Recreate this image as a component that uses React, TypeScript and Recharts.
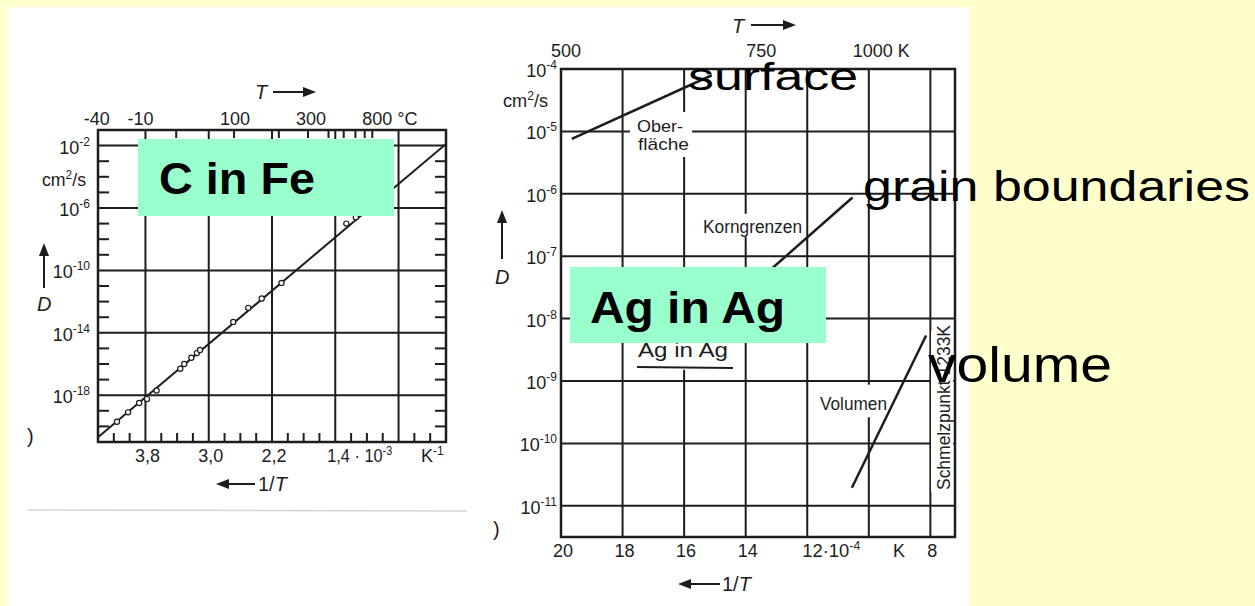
import React from 'react';
import { ScatterChart, Scatter, XAxis, YAxis, CartesianGrid, ReferenceArea } from 'recharts';

const INK = '#1d1d1d';
const SCAN_FONT = "'Liberation Sans Narrow', 'Liberation Sans', Arial, sans-serif";
const SLIDE_FONT = "'Liberation Sans', Arial, sans-serif";

// C in Fe: log10 D (cm²/s) over 1/T (10^-3 K^-1)
const feInvT = [4.16, 4.02, 3.88, 3.78, 3.66, 3.36, 3.31, 3.22, 3.15, 3.11, 2.69, 2.5, 2.33, 2.08, 1.26, 1.14];
const feLogD = [-19.7, -19.1, -18.5, -18.25, -17.7, -16.3, -16.0, -15.6, -15.3, -15.1, -13.3, -12.4, -11.8, -10.8, -7.0, -6.6];
const feFitInvT = [4.4, 0];
const feFitLogD = [-20.7, -1.9];
const feXTicks = [3.8, 3.0, 2.2, 1.4, 0.6];
const feXLabels = ['3,8', '3,0', '2,2', '1,4 · 10', ''];
const feXSup = ['', '', '', '-3', ''];
const feYTicks = [-18, -14, -10, -6, -2];
const feMinorX = [4.2, 4.0, 3.6, 3.4, 3.2, 2.8, 2.6, 2.4, 2.0, 1.8, 1.6, 1.2, 1.0, 0.8, 0.4, 0.2];
const feMinorY = [-20, -19, -17, -16, -15, -13, -12, -11, -9, -8, -7, -5, -4, -3];
const feTopCelsius = [-40, -10, 100, 300, 800];
const feTopTickCelsius = [20, 100, 200, 300, 400, 500, 600, 700, 800];

// Ag in Ag: log10 D (cm²/s) over 1/T (10^-4 K^-1)
const agSurfaceInvT = [19.65, 15.1];
const agSurfaceLogD = [-5.12, -4.1];
const agGrainInvT = [10.53, 13.5];
const agGrainLogD = [-6.06, -7.35];
const agVolumeInvT = [10.55, 8.14];
const agVolumeLogD = [-10.71, -8.27];
const agXTicks = [20, 18, 16, 14, 12, 10, 8];
const agXLabels = ['20', '18', '16', '14', '12·10', '', '8'];
const agXSup = ['', '', '', '', '-4', '', ''];
const agYTicks = [-11, -10, -9, -8, -7, -6, -5, -4];
const agTopKelvin = [500, 750, 1000];

const toFeInvT = (c: number) => 1000 / (c + 273.15);
const toAgInvT = (k: number) => 10000 / k;
const pts = (xs: number[], ys: number[]) => xs.map((x, i) => ({ x, y: ys[i] }));

const mark = (dx: number, dy: number) => (p: any) => (
  <line x1={p.cx} y1={p.cy} x2={p.cx + dx} y2={p.cy + dy} stroke={INK} strokeWidth={2} />
);
const ring = (p: any) => <circle cx={p.cx} cy={p.cy} r={2.6} fill="#fff" stroke={INK} strokeWidth={1.2} />;
const none = () => <g />;

const powerTick = (dx: number, dy: number) => (p: any) => (
  <text x={p.x + dx} y={p.y + dy} textAnchor="end" fontFamily={SCAN_FONT} fontSize={18} fill={INK}>
    10<tspan dy={-8} fontSize={12}>{String(p.payload.value)}</tspan>
  </text>
);

const bottomTick = (ticks: number[], labels: string[], sups: string[], supShift: number, supLen: number) => (p: any) => {
  const i = ticks.indexOf(p.payload.value);
  if (i < 0 || !labels[i]) return <g />;
  const y = p.y + 20;
  if (sups[i]) {
    return (
      <text x={p.x - supShift} y={y} textAnchor="start" fontFamily={SCAN_FONT} fontSize={18} fill={INK}
        textLength={supLen} lengthAdjust="spacingAndGlyphs">
        {labels[i]}<tspan dy={-7} fontSize={12}>{sups[i]}</tspan>
      </text>
    );
  }
  return (
    <text x={p.x + 2} y={y} textAnchor="middle" fontFamily={SCAN_FONT} fontSize={18} fill={INK}>{labels[i]}</text>
  );
};

const feTopTick = (p: any) => {
  const i = feTopCelsius.map(toFeInvT).indexOf(p.payload.value);
  const c = feTopCelsius[i];
  const last = i === feTopCelsius.length - 1;
  const nudge = [-10, -5, 1, 3, 0][i] ?? 0;
  return (
    <text x={p.x + (last ? -10 : nudge)} y={p.y - 5} textAnchor={last ? 'start' : 'middle'}
      fontFamily={SCAN_FONT} fontSize={18} fill={INK}>
      {last ? `${c} °C` : `${c}`}
    </text>
  );
};

const agTopTick = (p: any) => {
  const i = agTopKelvin.map(toAgInvT).indexOf(p.payload.value);
  const k = agTopKelvin[i];
  const last = i === agTopKelvin.length - 1;
  const nudge = [5, -5, 0][i] ?? 0;
  return (
    <text x={p.x + (last ? -16 : nudge)} y={p.y - 12} textAnchor={last ? 'start' : 'middle'}
      fontFamily={SCAN_FONT} fontSize={18} fill={INK}>
      {last ? `${k} K` : `${k}`}
    </text>
  );
};

const FeChart = () => (
  <ScatterChart width={480} height={520} margin={{ top: 100, right: 34, bottom: 48, left: 48 }}>
    <CartesianGrid stroke={INK} strokeWidth={2} />
    <XAxis type="number" dataKey="x" domain={[0, 4.4]} reversed allowDataOverflow ticks={feXTicks} interval={0}
      height={30} tickSize={0} tickMargin={0} tickLine={false} axisLine={false}
      tick={bottomTick(feXTicks, feXLabels, feXSup, 8, 65)} />
    <XAxis xAxisId="top" orientation="top" type="number" dataKey="x" domain={[0, 4.4]} reversed allowDataOverflow
      ticks={feTopCelsius.map(toFeInvT)} interval={0} height={30} tickSize={0} tickMargin={0}
      tickLine={false} axisLine={false} tick={feTopTick} />
    <YAxis type="number" dataKey="y" domain={[-21, -1]} allowDataOverflow ticks={feYTicks} interval={0}
      width={50} tickSize={0} tickMargin={0} tickLine={false} axisLine={false} tick={powerTick(-8, 8)} />
    <ReferenceArea x1={0} x2={4.4} y1={-21} y2={-1} fill="none" stroke={INK} strokeWidth={2.5} />
    <Scatter data={feMinorX.map((x) => ({ x, y: -21 }))} shape={mark(0, -9)} isAnimationActive={false} />
    <Scatter data={feTopTickCelsius.map((c) => ({ x: toFeInvT(c), y: -1 }))} shape={mark(0, 8)} isAnimationActive={false} />
    <Scatter data={feMinorY.map((y) => ({ x: 4.4, y }))} shape={mark(11, 0)} isAnimationActive={false} />
    <Scatter data={feMinorY.map((y) => ({ x: 0, y }))} shape={mark(-11, 0)} isAnimationActive={false} />
    <Scatter data={pts(feFitInvT, feFitLogD)} line={{ stroke: INK, strokeWidth: 2 }} shape={none} isAnimationActive={false} />
    <Scatter data={pts(feInvT, feLogD)} shape={ring} isAnimationActive={false} />
  </ScatterChart>
);

const AgChart = () => (
  <ScatterChart width={480} height={606} margin={{ top: 39, right: 5, bottom: 39, left: 31 }}>
    <CartesianGrid stroke={INK} strokeWidth={2} />
    {/* gaps in the grid behind the printed labels */}
    <ReferenceArea x1={15.74} x2={17.76} y1={-5.41} y2={-4.69} fill="#fff" fillOpacity={1} stroke="none" />
    <ReferenceArea x1={12.07} x2={15.48} y1={-6.69} y2={-6.32} fill="#fff" fillOpacity={1} stroke="none" />
    <ReferenceArea x1={9.44} x2={11.65} y1={-9.58} y2={-9.06} fill="#fff" fillOpacity={1} stroke="none" />
    <ReferenceArea x1={14.35} x2={17.6} y1={-8.82} y2={-8.39} fill="#fff" fillOpacity={1} stroke="none" />
    <ReferenceArea x1={7.26} x2={7.98} y1={-10.77} y2={-8.2} fill="#fff" fillOpacity={1} stroke="none" />
    <XAxis type="number" dataKey="x" domain={[7.2, 20]} reversed allowDataOverflow ticks={agXTicks} interval={0}
      height={30} tickSize={0} tickMargin={0} tickLine={false} axisLine={false}
      tick={bottomTick(agXTicks, agXLabels, agXSup, 5, 58)} />
    <XAxis xAxisId="top" orientation="top" type="number" dataKey="x" domain={[7.2, 20]} reversed allowDataOverflow
      ticks={agTopKelvin.map(toAgInvT)} interval={0} height={30} tickSize={0} tickMargin={0}
      tickLine={false} axisLine={false} tick={agTopTick} />
    <YAxis type="number" dataKey="y" domain={[-11.5, -4]} allowDataOverflow ticks={agYTicks} interval={0}
      width={50} tickSize={0} tickMargin={0} tickLine={false} axisLine={false} tick={powerTick(-4, 8)} />
    <ReferenceArea x1={7.2} x2={20} y1={-11.5} y2={-4} fill="none" stroke={INK} strokeWidth={2.5} />
    <Scatter data={pts(agSurfaceInvT, agSurfaceLogD)} line={{ stroke: INK, strokeWidth: 2.5 }} shape={none} isAnimationActive={false} />
    <Scatter data={pts(agGrainInvT, agGrainLogD)} line={{ stroke: INK, strokeWidth: 2.5 }} shape={none} isAnimationActive={false} />
    <Scatter data={pts(agVolumeInvT, agVolumeLogD)} line={{ stroke: INK, strokeWidth: 2.5 }} shape={none} isAnimationActive={false} />
  </ScatterChart>
);

const scan = { fontFamily: SCAN_FONT, fill: INK, lengthAdjust: 'spacingAndGlyphs' } as const;
const slide = { fontFamily: SLIDE_FONT, fill: '#000', lengthAdjust: 'spacingAndGlyphs' } as const;

const Notes = () => (
  <svg width={1255} height={606} style={{ position: 'absolute', left: 0, top: 0, pointerEvents: 'none' }}>
    {/* left scan */}
    <text x={255} y={99} fontSize={20} fontStyle="italic" {...scan}>T</text>
    <line x1={273} y1={92} x2={306} y2={92} stroke={INK} strokeWidth={2} />
    <polygon points="316,92 303,87 303,97" fill={INK} />
    <text x={42} y={186} fontSize={18} textLength={44} {...scan}>cm<tspan dy={-7} fontSize={12}>2</tspan><tspan dy={7}>/s</tspan></text>
    <line x1={44} y1={288} x2={44} y2={252} stroke={INK} strokeWidth={2} />
    <polygon points="44,243 39,256 49,256" fill={INK} />
    <text x={37} y={311} fontSize={20} fontStyle="italic" {...scan}>D</text>
    <text x={27} y={443} fontSize={20} {...scan}>)</text>
    <text x={421} y={462} fontSize={18} {...scan}>K<tspan dy={-7} fontSize={12}>-1</tspan></text>
    <line x1={226} y1={484} x2={255} y2={484} stroke={INK} strokeWidth={2} />
    <polygon points="216,484 229,479 229,489" fill={INK} />
    <text x={258} y={491} fontSize={20} {...scan}>1/<tspan fontStyle="italic">T</tspan></text>
    <line x1={28} y1={510} x2={467} y2={511} stroke="#d4d4d4" strokeWidth={1.5} />

    {/* right scan */}
    <text x={732} y={33} fontSize={20} fontStyle="italic" {...scan}>T</text>
    <line x1={751} y1={25} x2={786} y2={25} stroke={INK} strokeWidth={2} />
    <polygon points="796,25 783,20 783,30" fill={INK} />
    <text x={503} y={107} fontSize={18} textLength={45} {...scan}>cm<tspan dy={-7} fontSize={12}>2</tspan><tspan dy={7}>/s</tspan></text>
    <line x1={502} y1={259} x2={502} y2={219} stroke={INK} strokeWidth={2} />
    <polygon points="502,210 497,223 507,223" fill={INK} />
    <text x={495} y={284} fontSize={20} fontStyle="italic" {...scan}>D</text>
    <text x={493} y={536} fontSize={20} {...scan}>)</text>
    <text x={893} y={557} fontSize={18} {...scan}>K</text>
    <line x1={688} y1={584} x2={720} y2={584} stroke={INK} strokeWidth={2} />
    <polygon points="678,584 691,579 691,589" fill={INK} />
    <text x={722} y={591} fontSize={20} {...scan}>1/<tspan fontStyle="italic">T</tspan></text>
    <text x={637} y={132} fontSize={17} textLength={46} {...scan}>Ober-</text>
    <text x={638} y={150} fontSize={17} textLength={51} {...scan}>fläche</text>
    <text x={703} y={233} fontSize={18} textLength={99} {...scan}>Korngrenzen</text>
    <text x={638} y={357} fontSize={20} textLength={90} {...scan}>Ag in Ag</text>
    <line x1={637} y1={367} x2={733} y2={368} stroke={INK} strokeWidth={2} />
    <text x={820} y={410} fontSize={18} textLength={67} {...scan}>Volumen</text>
    <text transform="translate(950,490) rotate(-90)" fontSize={18} textLength={165} {...scan}>
      Schmelzpunkt 1233K
    </text>

    {/* slide overlays */}
    <rect x={138} y={139} width={256} height={77} fill="#99FFCC" />
    <text x={159} y={194} fontSize={44} fontWeight="bold" textLength={156} {...slide}>C in Fe</text>
    <rect x={570} y={267} width={256} height={76} fill="#99FFCC" />
    <text x={590} y={323} fontSize={44} fontWeight="bold" textLength={195} {...slide}>Ag in Ag</text>
    <text x={688} y={90} fontSize={38} textLength={170} {...slide}>surface</text>
    <text x={863} y={201} fontSize={42} textLength={387} {...slide}>grain boundaries</text>
    <text x={928} y={382} fontSize={50} textLength={184} {...slide}>volume</text>
  </svg>
);

export default function App() {
  return (
    <div style={{ position: 'absolute', left: 0, top: 0, width: 1255, height: 606, background: '#FFFFCC', overflow: 'hidden' }}>
      <div style={{ position: 'absolute', left: 8, top: 7, width: 961, height: 599, background: '#fff' }} />
      <div style={{ position: 'absolute', left: 0, top: 0 }}>
        <FeChart />
      </div>
      <div style={{ position: 'absolute', left: 480, top: 0 }}>
        <AgChart />
      </div>
      <Notes />
    </div>
  );
}
